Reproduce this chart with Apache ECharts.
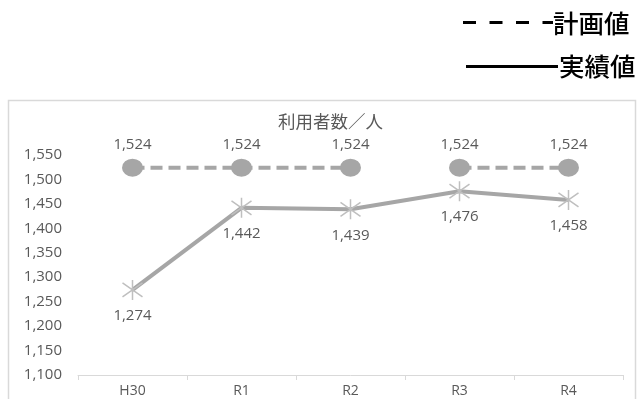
<!DOCTYPE html>
<html>
<head>
<meta charset="utf-8">
<script src="https://cdn.jsdelivr.net/npm/echarts@6/dist/echarts.min.js"></script>
<style>
html,body{margin:0;padding:0;background:#fff;}
#c{width:643px;height:399px;}
</style>
</head>
<body>
<div id="c"></div>
<script>
const categories = ['H30', 'R1', 'R2', 'R3', 'R4'];
const planValues = [1524, 1524, 1524, 1524, 1524];
const actualValues = [1274, 1442, 1439, 1476, 1458];
const planBreakAfter = 'R2';
const yTicks = { min: 1100, max: 1550, step: 50 };
const chartTitle = '利用者数／人';
const planName = '計画値';
const actualName = '実績値';

const breakIdx = categories.indexOf(planBreakAfter);
const planA = planValues.map((v, i) => (i <= breakIdx ? v : null));
const planB = planValues.map((v, i) => (i > breakIdx ? v : null));

const numFont = '"Open Sans", "Noto Sans", sans-serif';
const cjkFont = '"Noto Sans CJK JP", sans-serif';
const fmt = p => (p.value == null ? '' : Number(p.value).toLocaleString('en-US'));

const planSeries = d => ({
  name: planName,
  type: 'line',
  data: d,
  symbol: 'circle',
  symbolSize: [21, 18],
  showAllSymbol: true,
  connectNulls: false,
  lineStyle: { color: '#a6a6a6', width: 4, type: [12, 6] },
  itemStyle: { color: '#a6a6a6' },
  label: {
    show: true, position: 'top', distance: 6,
    color: '#595959', fontSize: 15, fontFamily: numFont, formatter: fmt
  },
  z: 2
});

const chart = echarts.init(document.getElementById('c'), null, { renderer: 'canvas' });
chart.setOption({
  animation: false,
  backgroundColor: '#fff',
  grid: { left: 78, right: 20, top: 155, bottom: 24, containLabel: false },
  xAxis: {
    type: 'category',
    data: categories,
    boundaryGap: true,
    axisLine: { lineStyle: { color: '#d9d9d9', width: 1 } },
    axisTick: { show: true, length: 5, lineStyle: { color: '#d9d9d9' } },
    axisLabel: { color: '#595959', fontSize: 14, fontFamily: numFont, margin: 9 }
  },
  yAxis: {
    type: 'value',
    min: yTicks.min, max: yTicks.max, interval: yTicks.step,
    axisLine: { show: false },
    axisTick: { show: false },
    splitLine: { show: false },
    axisLabel: {
      color: '#595959', fontSize: 15, fontFamily: numFont, margin: 16,
      formatter: v => Number(v).toLocaleString('en-US')
    }
  },
  series: [
    planSeries(planA),
    planSeries(planB),
    {
      name: actualName,
      type: 'line',
      data: actualValues,
      symbol: 'path://M0,3L20,17M20,3L0,17M10,0L10,20',
      symbolSize: [20, 20],
      showAllSymbol: true,
      lineStyle: { color: '#a6a6a6', width: 4 },
      itemStyle: { color: 'none', borderColor: '#bfbfbf', borderWidth: 1.5 },
      label: {
        show: true, position: 'bottom', distance: 6,
        color: '#595959', fontSize: 15, fontFamily: numFont, formatter: fmt
      },
      z: 3
    }
  ],
  graphic: [
    {
      type: 'rect', silent: true, z: -1,
      shape: { x: 8.5, y: 100.5, width: 627, height: 330 },
      style: { fill: 'none', stroke: '#d9d9d9', lineWidth: 1.5 }
    },
    {
      type: 'text', left: 278, top: 113,
      style: { text: chartTitle, fill: '#595959', font: '17.5px ' + cjkFont }
    },
    {
      type: 'line', silent: true,
      shape: { x1: 463, y1: 22.5, x2: 553, y2: 22.5 },
      style: { stroke: '#000', lineWidth: 3, lineDash: [13, 13.5] }
    },
    {
      type: 'text', left: 553, top: 11,
      style: { text: planName, fill: '#000', font: '500 25.5px ' + cjkFont }
    },
    {
      type: 'line', silent: true,
      shape: { x1: 466, y1: 66.5, x2: 558, y2: 66.5 },
      style: { stroke: '#000', lineWidth: 3 }
    },
    {
      type: 'text', left: 559, top: 54,
      style: { text: actualName, fill: '#000', font: '500 25.5px ' + cjkFont }
    }
  ]
});
</script>
</body>
</html>
